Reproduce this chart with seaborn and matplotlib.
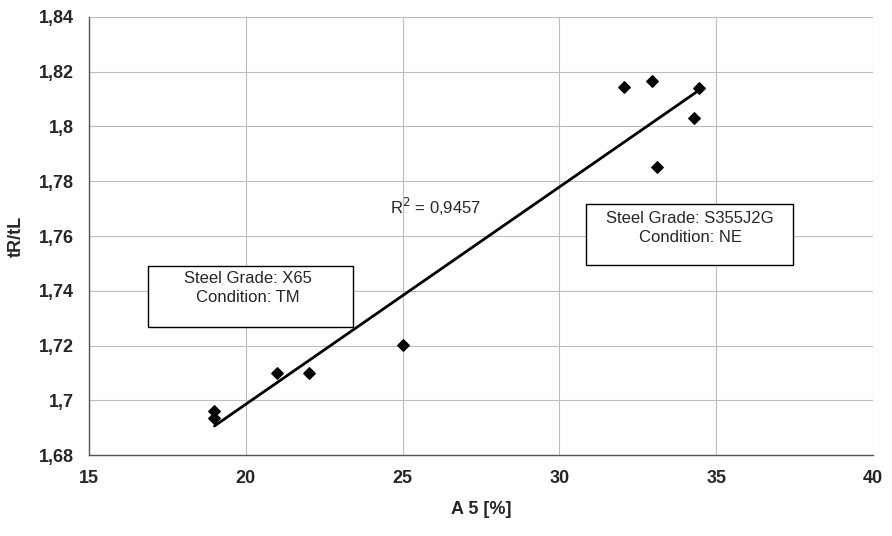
import numpy as np
import pandas as pd
import matplotlib
matplotlib.use("Agg")
import matplotlib.pyplot as plt
import seaborn as sns
from matplotlib.ticker import FuncFormatter, MultipleLocator
from matplotlib.patches import Rectangle

# Data
a5 = [19.0, 19.0, 21.0, 22.0, 25.0, 32.05, 32.95, 33.1, 34.3, 34.45]
tr_tl = [1.6961, 1.6935, 1.7101, 1.7100, 1.7202, 1.8146, 1.8166, 1.7852, 1.8031, 1.8142]
r2_label = "R$^2$ = 0,9457"
box_x65 = "Steel Grade: X65\nCondition: TM"
box_s355 = "Steel Grade: S355J2G\nCondition: NE"
x_label = "A 5 [%]"
y_label = "tR/tL"

df = pd.DataFrame({"A5": a5, "ratio": tr_tl})

sns.set_style("white")
plt.rcParams['font.family'] = ['Liberation Sans', 'DejaVu Sans']

fig = plt.figure(figsize=(8.92, 5.36), dpi=100)
ax = fig.add_axes([0.0998, 0.1511, 0.8789, 0.8172])

sns.regplot(data=df, x="A5", y="ratio", ax=ax, ci=None, truncate=True,
            marker="D", scatter_kws=dict(color="black", s=34, edgecolor="black",
                                         alpha=1.0, zorder=6),
            line_kws=dict(color="black", lw=2, zorder=6))

ax.set_xlim(15, 40)
ax.set_ylim(1.68, 1.84)
ax.xaxis.set_major_locator(MultipleLocator(5))
ax.yaxis.set_major_locator(MultipleLocator(0.02))

def fmt(v, pos):
    s = f"{v:.2f}".rstrip("0").rstrip(".")
    return s.replace(".", ",")

ax.yaxis.set_major_formatter(FuncFormatter(fmt))
ax.xaxis.set_major_formatter(FuncFormatter(lambda v, p: f"{v:.0f}"))

ax.grid(True, color="#bdbdbd", lw=0.8)
for side in ["top", "right"]:
    ax.spines[side].set_visible(False)
for side in ["left", "bottom"]:
    ax.spines[side].set_color("#555555")
    ax.spines[side].set_linewidth(1.0)

ax.tick_params(axis="both", which="major", length=5, direction="out", color="#555555",
               labelsize=13, pad=6)
for lab in ax.get_xticklabels() + ax.get_yticklabels():
    lab.set_fontweight("bold")

ax.set_xlabel(x_label, fontsize=13, fontweight="bold", labelpad=10)
ax.set_ylabel(y_label, fontsize=13, fontweight="bold", labelpad=10)

ax.text(24.6, 1.7706, r2_label, fontsize=12, va="center", ha="left")

# annotation boxes (axes-fraction positions)
ax.add_patch(Rectangle((0.0753, 0.2922), 0.2615, 0.1393, transform=ax.transAxes,
                       fc="white", ec="black", lw=1.0, zorder=4))
ax.text(0.2028, 0.3813, box_x65, transform=ax.transAxes, fontsize=12, ha="center",
        va="center", linespacing=1.35, zorder=5)

ax.add_patch(Rectangle((0.634, 0.4338), 0.264, 0.1393, transform=ax.transAxes,
                       fc="white", ec="black", lw=1.0, zorder=4))
ax.text(0.7666, 0.5183, box_s355, transform=ax.transAxes, fontsize=12, ha="center",
        va="center", linespacing=1.35, zorder=5)

fig.savefig("out.png", dpi=100, facecolor="white")
